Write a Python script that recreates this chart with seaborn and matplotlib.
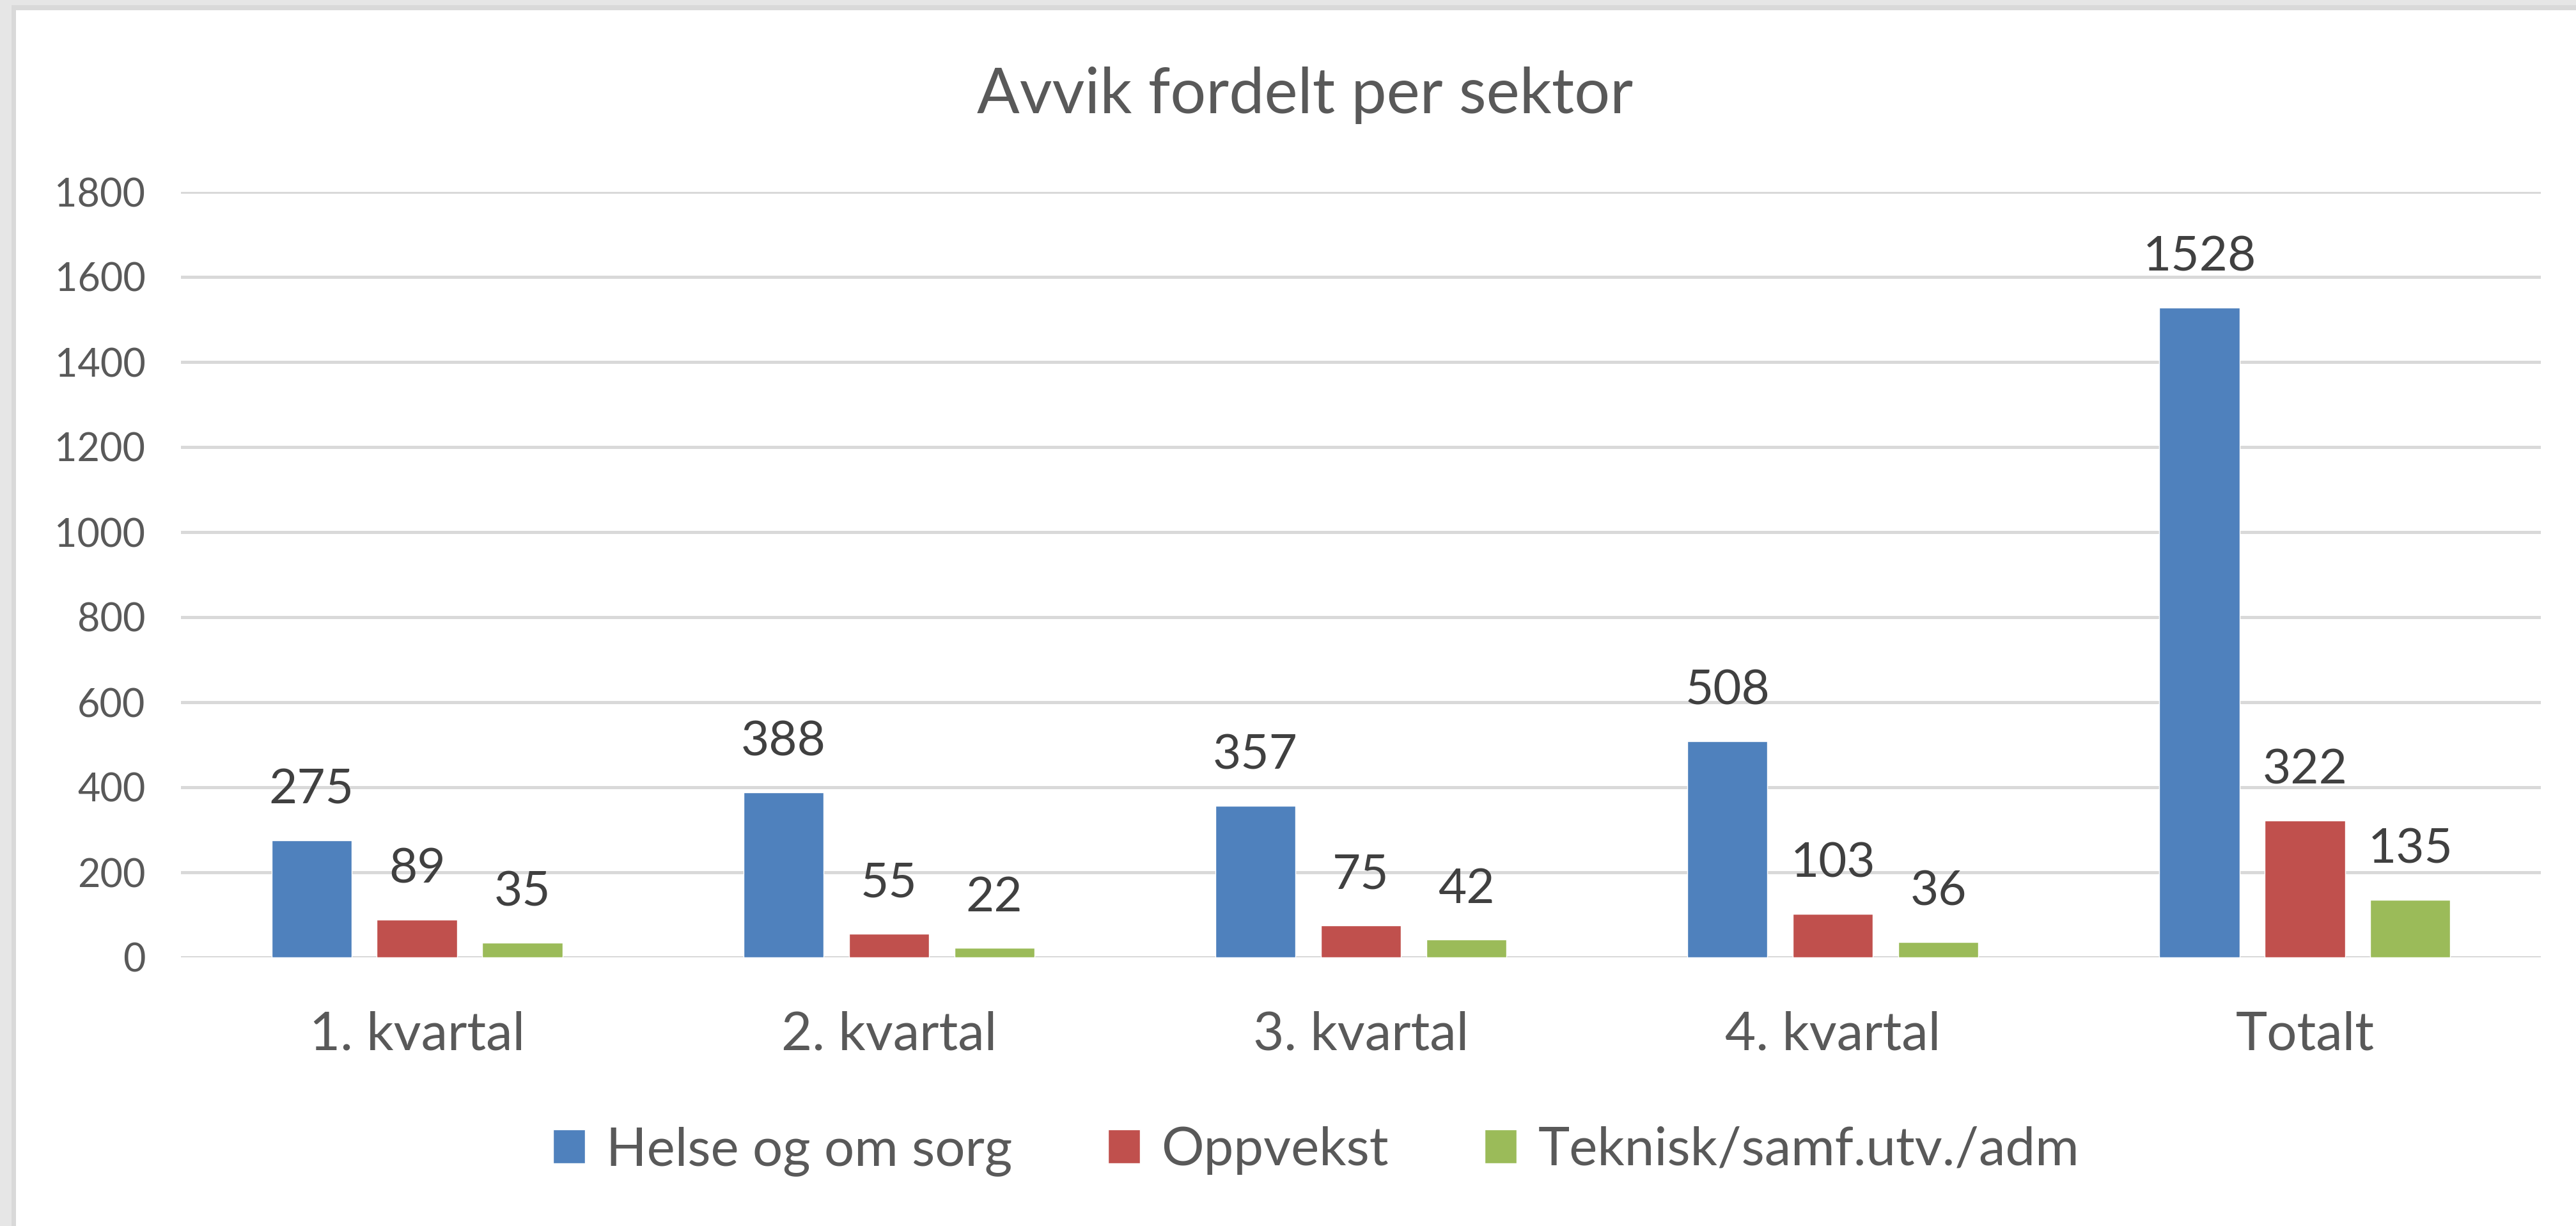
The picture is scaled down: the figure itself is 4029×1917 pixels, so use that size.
import pandas as pd
import matplotlib.pyplot as plt
import seaborn as sns
from matplotlib.patches import Rectangle

# data
kategorier = ['1. kvartal', '2. kvartal', '3. kvartal', '4. kvartal', 'Totalt']
helse = [275, 388, 357, 508, 1528]
oppvekst = [89, 55, 75, 103, 322]
teknisk = [35, 22, 42, 36, 135]
sektorer = ['Helse og om sorg', 'Oppvekst', 'Teknisk/samf.utv./adm']
farger = ['#4F81BD', '#C0504D', '#9BBB59']

rows = []
for sektor, verdier in zip(sektorer, [helse, oppvekst, teknisk]):
    for k, v in zip(kategorier, verdier):
        rows.append({'kategori': k, 'sektor': sektor, 'antall': v})
data = pd.DataFrame(rows)

sns.set_style('white')
plt.rcParams['font.family'] = ['Lato', 'DejaVu Sans']

W, H = 4030, 1917
fig = plt.figure(figsize=(W / 100, H / 100), dpi=100)
fig.patch.set_facecolor('#E6E6E6')
fig.add_artist(Rectangle((18 / W, 0), 1, 1 - 8 / H, transform=fig.transFigure,
                         facecolor='#D9D9D9', edgecolor='none', zorder=-3))
fig.add_artist(Rectangle((25 / W, 0), 1, 1 - 16 / H, transform=fig.transFigure,
                         facecolor='white', edgecolor='none', zorder=-2))

ax = fig.add_axes([283 / W, 1 - 1497 / H, (3974 - 283) / W, (1497 - 300) / H])
ax.set_facecolor('none')

sns.barplot(data=data, x='kategori', y='antall', hue='sektor', palette=farger,
            width=0.67, gap=0.24, ax=ax, zorder=3, saturation=1)

for c in ax.containers:
    ax.bar_label(c, padding=32, fontsize=55, color='#404040')

ax.set_ylim(0, 1800)
ax.set_yticks(range(0, 1801, 200))
ax.set_xlim(-0.5, 4.5)
ax.yaxis.grid(True, color='#D9D9D9', linewidth=3.6, zorder=0)
ax.set_axisbelow(True)
for s in ax.spines.values():
    s.set_visible(False)
ax.tick_params(axis='y', length=0, pad=40, labelsize=44, labelcolor='#595959')
ax.tick_params(axis='x', length=0, pad=60, labelsize=60, labelcolor='#595959')
ax.set_xlabel('')
ax.set_ylabel('')

fig.text(2041 / W, 1 - 177 / H, 'Avvik fordelt per sektor', fontsize=71,
         color='#595959', ha='center', va='baseline')

ax.legend(loc='center', bbox_to_anchor=(0.481, -0.253), ncol=3, frameon=False,
          fontsize=60, labelcolor='#595959', handlelength=0.6, handleheight=0.6,
          handletextpad=0.4, columnspacing=1.8)

fig.savefig('out.png', dpi=100, facecolor=fig.get_facecolor())
